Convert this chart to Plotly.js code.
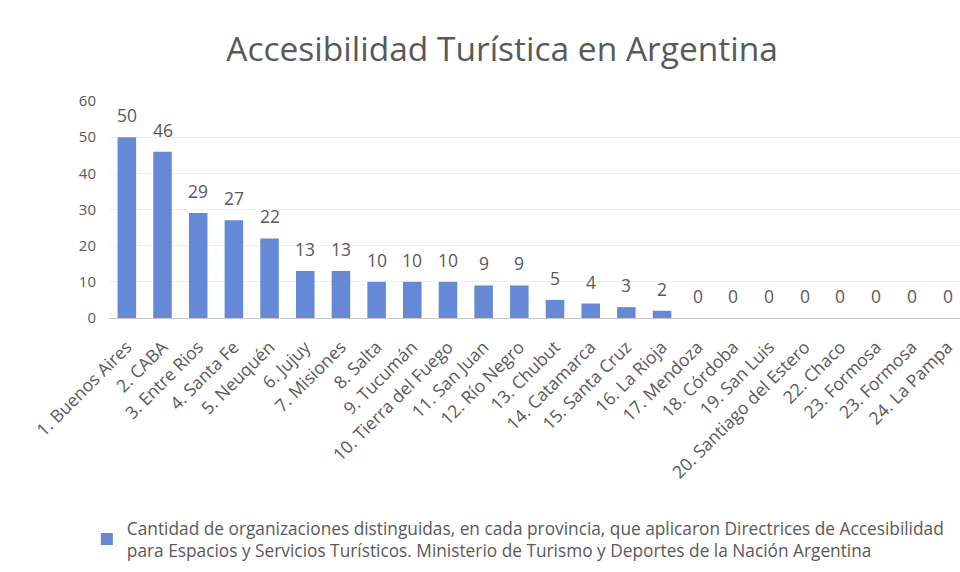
<!DOCTYPE html>
<html>
<head>
<meta charset="utf-8">
<script src="https://cdn.plot.ly/plotly-3.0.1.min.js"></script>
<style>html,body{margin:0;padding:0;background:#fff;overflow:hidden}#chart{width:960px;height:572px}</style>
</head>
<body>
<div id="chart"></div>
<script>
const provinces = ["1. Buenos Aires","2. CABA","3. Entre Rios","4. Santa Fe","5. Neuquén","6. Jujuy","7. Misiones","8. Salta","9. Tucumán","10. Tierra del Fuego","11. San Juan","12. Río Negro","13. Chubut","14. Catamarca","15. Santa Cruz","16. La Rioja","17. Mendoza","18. Córdoba","19. San Luis","20. Santiago del Estero","22. Chaco","23. Formosa","23. Formosa","24. La Pampa"];
const organizaciones = [50,46,29,27,22,13,13,10,10,10,9,9,5,4,3,2,0,0,0,0,0,0,0,0];
const seriesName = "Cantidad de organizaciones distinguidas, en cada provincia, que aplicaron Directrices de Accesibilidad<br>para Espacios y Servicios Turísticos. Ministerio de Turismo y Deportes de la Nación Argentina";
const yTicks = [0,10,20,30,40,50,60];

const positions = provinces.map((p,i)=>i);
const gray = "#595959";
const fontFam = "'Open Sans', Lato, sans-serif";

const valueLabels = organizaciones.map((v,i)=>({
  x: positions[i], y: v, xref: "x", yref: "y", text: String(v),
  showarrow: false, yshift: 22, yanchor: "middle",
  font: {family: fontFam, size: 17.5, color: gray}
}));

Plotly.newPlot("chart", [{
  type: "bar",
  x: positions,
  y: organizaciones,
  name: seriesName,
  marker: {color: "#6589D6"},
  showlegend: true
}], {
  width: 960, height: 572,
  margin: {l: 109, r: 0, t: 101, b: 254},
  paper_bgcolor: "#fff", plot_bgcolor: "#fff",
  bargap: 0.48,
  annotations: valueLabels,
  title: {text: "Accesibilidad Turística en Argentina", xref: "container", x: 0.523, xanchor: "center", y: 0.913, yanchor: "middle",
          font: {family: fontFam, size: 33.5, color: gray}},
  xaxis: {
    range: [-0.5, 23.35],
    tickmode: "array", tickvals: positions, ticktext: provinces,
    tickangle: -45,
    tickfont: {family: fontFam, size: 17.5, color: gray},
    showgrid: false, zeroline: false,
    showline: true, linecolor: "#c8c8c8", linewidth: 1,
    ticks: "", ticklabelstandoff: 11
  },
  yaxis: {
    range: [0, 60],
    tickmode: "array", tickvals: yTicks,
    tickfont: {family: fontFam, size: 15, color: gray},
    showgrid: true, gridcolor: "#efefef", gridwidth: 1,
    zeroline: false, showline: false, ticks: "", ticklen: 0,
    ticklabelstandoff: 12
  },
  legend: {
    orientation: "h", x: -0.026, xanchor: "left", y: -0.885, yanchor: "top",
    font: {family: fontFam, size: 17.3, color: gray},
    itemwidth: 30, tracegroupgap: 0
  },
  showlegend: true
}, {staticPlot: true});
</script>
</body>
</html>
